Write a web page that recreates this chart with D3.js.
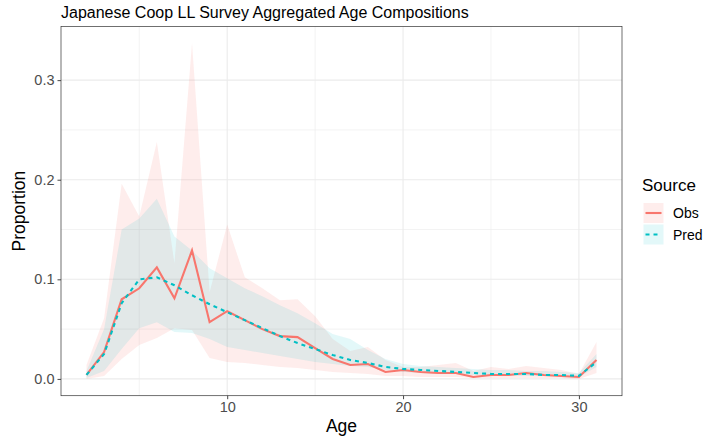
<!DOCTYPE html>
<html><head><meta charset="utf-8">
<script src="https://cdn.jsdelivr.net/npm/d3@7"></script>
<style>body{margin:0;background:#fff}svg text{font-family:"Liberation Sans",Arial,sans-serif}</style>
</head><body><svg id="c" width="707" height="440"></svg>
<script>
const ages = [2,3,4,5,6,7,8,9,10,11,12,13,14,15,16,17,18,19,20,21,22,23,24,25,26,27,28,29,30,31];
const obs = [0.004,0.027,0.080,0.091,0.112,0.081,0.129,0.057,0.068,0.059,0.050,0.043,0.042,0.031,0.020,0.014,0.015,0.007,0.009,0.007,0.006,0.006,0.002,0.004,0.004,0.006,0.004,0.003,0.002,0.019];
const pred = [0.004,0.025,0.076,0.100,0.102,0.094,0.084,0.075,0.067,0.059,0.051,0.043,0.036,0.030,0.024,0.019,0.016,0.012,0.010,0.009,0.008,0.007,0.006,0.005,0.005,0.005,0.004,0.004,0.003,0.017];
const obsUpper = [0.014,0.061,0.196,0.163,0.238,0.116,0.337,0.087,0.155,0.102,0.091,0.079,0.080,0.063,0.040,0.028,0.032,0.019,0.012,0.012,0.014,0.016,0.008,0.012,0.010,0.013,0.011,0.009,0.005,0.037];
const obsLower = [0.000,0.003,0.020,0.034,0.041,0.051,0.049,0.021,0.017,0.016,0.014,0.012,0.011,0.009,0.007,0.006,0.005,0.003,0.003,0.002,0.002,0.002,0.001,0.001,0.001,0.001,0.001,0.001,0.000,0.006];
const predUpper = [0.008,0.050,0.150,0.161,0.181,0.143,0.129,0.111,0.101,0.091,0.083,0.074,0.066,0.056,0.045,0.040,0.029,0.020,0.015,0.013,0.012,0.011,0.010,0.009,0.009,0.008,0.008,0.007,0.006,0.025];
const predLower = [0.001,0.008,0.030,0.051,0.057,0.047,0.046,0.040,0.032,0.029,0.026,0.023,0.020,0.017,0.015,0.013,0.012,0.009,0.007,0.006,0.005,0.005,0.004,0.004,0.003,0.003,0.003,0.003,0.002,0.012];
const xTicks = [10,20,30];
const yTicks = [0,0.1,0.2,0.3];
const xMinor = [5,15,25];
const yMinor = [0.05,0.15,0.25];
const seriesNames = ["Obs","Pred"];
const colors = ["#F8766D","#00BFC4"];

const svg = d3.select("#c");
const L = 61, R = 622, T = 26.5, B = 395.7;
const xr = d3.extent(ages), xp = (xr[1]-xr[0])*0.05;
const x = d3.scaleLinear().domain([xr[0]-xp, xr[1]+xp]).range([L, R]);
const ymax = d3.max(obsUpper), yp = ymax*0.05;
const y = d3.scaleLinear().domain([-yp, ymax+yp]).range([B, T]);

const g = svg.append("g");
g.selectAll(".gminx").data(xMinor).join("line").attr("x1",d=>x(d)).attr("x2",d=>x(d)).attr("y1",T).attr("y2",B).attr("stroke","#ebebeb").attr("stroke-width",0.6);
g.selectAll(".gminy").data(yMinor).join("line").attr("y1",d=>y(d)).attr("y2",d=>y(d)).attr("x1",L).attr("x2",R).attr("stroke","#ebebeb").attr("stroke-width",0.6);
g.selectAll(".gmajx").data(xTicks).join("line").attr("x1",d=>x(d)).attr("x2",d=>x(d)).attr("y1",T).attr("y2",B).attr("stroke","#ebebeb").attr("stroke-width",1.1);
g.selectAll(".gmajy").data(yTicks).join("line").attr("y1",d=>y(d)).attr("y2",d=>y(d)).attr("x1",L).attr("x2",R).attr("stroke","#ebebeb").attr("stroke-width",1.1);

const idx = d3.range(ages.length);
const area = (lo, hi) => d3.area().x(i=>x(ages[i])).y0(i=>y(lo[i])).y1(i=>y(hi[i]));
g.append("path").attr("d", area(obsLower, obsUpper)(idx)).attr("fill", colors[0]).attr("fill-opacity", 0.13);
g.append("path").attr("d", area(predLower, predUpper)(idx)).attr("fill", colors[1]).attr("fill-opacity", 0.11);

const line = vals => d3.line().x(i=>x(ages[i])).y(i=>y(vals[i]));
g.append("path").attr("d", line(obs)(idx)).attr("fill","none").attr("stroke",colors[0]).attr("stroke-width",2.1);
g.append("path").attr("d", line(pred)(idx)).attr("fill","none").attr("stroke",colors[1]).attr("stroke-width",2.1).attr("stroke-dasharray","4,4");

svg.append("rect").attr("x",L).attr("y",T).attr("width",R-L).attr("height",B-T).attr("fill","none").attr("stroke","#333333").attr("stroke-width",0.7);

const xa = svg.append("g").attr("transform",`translate(0,${B})`).call(d3.axisBottom(x).tickValues(xTicks).tickSize(3.5).tickPadding(3).tickFormat(d3.format("d")));
const ya = svg.append("g").attr("transform",`translate(${L},0)`).call(d3.axisLeft(y).tickValues(yTicks).tickSize(3.5).tickPadding(3).tickFormat(d3.format(".1f")));
[xa,ya].forEach(a=>{a.select(".domain").remove();a.selectAll("line").attr("stroke","#333333").attr("stroke-width",0.9);a.selectAll("text").attr("fill","#4d4d4d").style("font-size","14.5px").attr("font-family",null);});

svg.append("text").attr("x",(L+R)/2).attr("y",432).attr("text-anchor","middle").style("font-size","17.5px").attr("fill","#000").text("Age");
svg.append("text").attr("transform",`translate(25,${(T+B)/2}) rotate(-90)`).attr("text-anchor","middle").style("font-size","17.5px").attr("fill","#000").text("Proportion");
svg.append("text").attr("x",L).attr("y",17.5).style("font-size","16px").attr("fill","#000").text("Japanese Coop LL Survey Aggregated Age Compositions");

const lg = svg.append("g");
lg.append("text").attr("x",642).attr("y",191).style("font-size","17px").attr("fill","#000").text("Source");
seriesNames.forEach((n,i)=>{
  const ky = 203 + i*21.5;
  lg.append("rect").attr("x",643.5).attr("y",ky).attr("width",20).attr("height",20).attr("fill",colors[i]).attr("fill-opacity",i===0?0.13:0.11);
  lg.append("line").attr("x1",645.5).attr("x2",661.5).attr("y1",ky+10).attr("y2",ky+10).attr("stroke",colors[i]).attr("stroke-width",2.1).attr("stroke-dasharray",i===1?"4,4":null);
  lg.append("text").attr("x",673).attr("y",ky+15).style("font-size",'14px').attr("fill","#000").text(n);
});
</script></body></html>
